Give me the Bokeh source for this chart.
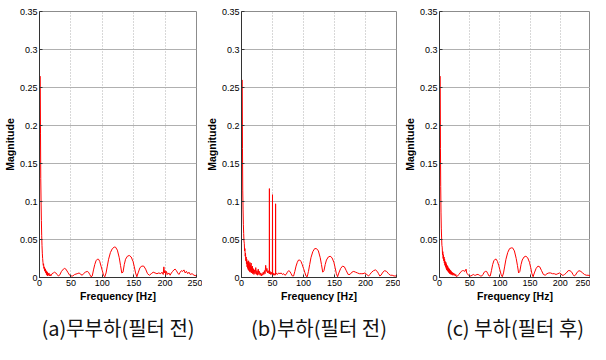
from bokeh.plotting import figure
from bokeh.layouts import row
from bokeh.models import FixedTicker, LinearAxis, Range1d
from bokeh.embed import file_html
from bokeh.resources import INLINE

# ---------------- data ----------------
x_ticks = [0, 50, 100, 150, 200, 250]
y_ticks = [0, 0.05, 0.1, 0.15, 0.2, 0.25, 0.3, 0.35]
y_tick_labels = ["0", "0.05", "0.1", "0.15", "0.2", "0.25", "0.3", "0.35"]
captions = ["(a)무부하(필터 전)", "(b)부하(필터 전)", "(c) 부하(필터 후)"]

freq_a = [1.2, 1.6, 2.0, 2.5, 3.0, 3.5, 4.0, 4.5, 5.0, 5.5, 6, 6.5, 7, 7.5, 8, 8.5, 9,
          9.5, 10, 10.5, 11, 11.5, 12, 12.5, 13, 13.5, 14, 15, 16, 17, 18, 20, 22, 24, 26, 28, 30,
          32, 35, 38, 40, 42, 45, 48, 50, 53, 56, 60, 63, 66, 68, 70, 73, 76, 78, 80, 82,
          84, 86, 88, 90, 92, 94, 96, 98, 100, 102, 104, 106, 108, 110, 113, 116, 119, 121, 124, 127,
          129, 131, 133, 135, 137, 140, 143, 146, 149, 151, 153, 155, 157, 160, 163, 166, 169, 172, 175, 178,
          181, 184, 187, 190, 193, 195, 197, 198, 199, 200, 201, 202, 204, 206, 208, 210, 212, 214, 216, 218,
          220, 222, 224, 226, 228, 230, 232, 234, 236, 238, 240, 243, 246, 250]
mag_a = [0.265, 0.19, 0.13, 0.10, 0.075, 0.055, 0.042, 0.032, 0.025, 0.02, 0.016, 0.018, 0.012, 0.014, 0.009, 0.012, 0.008,
         0.011, 0.006, 0.009, 0.004, 0.008, 0.003, 0.007, 0.002, 0.005, 0.003, 0.006, 0.002, 0.004, 0.002, 0.005, 0.006, 0.007, 0.006, 0.004, 0.002,
         0.003, 0.008, 0.011, 0.012, 0.011, 0.007, 0.003, 0.002, 0.002, 0.004, 0.005, 0.006, 0.004, 0.003, 0.005, 0.007, 0.008, 0.007, 0.004, 0.001,
         0.002, 0.010, 0.017, 0.022, 0.024, 0.024, 0.021, 0.015, 0.009, 0.003, 0.001, 0.006, 0.015, 0.024, 0.033, 0.038, 0.040, 0.040, 0.036, 0.026,
         0.016, 0.006, 0.007, 0.017, 0.024, 0.028, 0.029, 0.027, 0.021, 0.014, 0.006, 0.001, 0.006, 0.013, 0.015, 0.015, 0.011, 0.005, 0.003, 0.005,
         0.007, 0.006, 0.005, 0.006, 0.005, 0.007, 0.004, 0.014, 0.006, 0.009, 0.003, 0.008, 0.004, 0.006, 0.003, 0.006, 0.008, 0.010, 0.011, 0.009,
         0.006, 0.004, 0.007, 0.009, 0.008, 0.010, 0.006, 0.008, 0.005, 0.007, 0.004, 0.005, 0.003, 0.002]

freq_b = [1.2, 1.6, 2.0, 2.5, 3.0, 3.5, 4.0, 4.5, 5.0, 5.5, 6.0, 6.5, 7.0, 7.5, 8.0, 8.5, 9.0,
          9.5, 10, 10.5, 11, 11.5, 12, 12.5, 13, 13.5, 14, 14.5, 15, 15.5, 16, 16.5, 17, 17.5, 18, 18.5, 19,
          19.5, 20, 21, 22, 23, 24, 25, 26, 27, 28, 29, 30, 31, 32, 33, 34, 35, 36, 37, 38,
          39, 40, 41, 42, 43, 44, 44.8, 45.0, 45.2, 46, 47, 48, 49, 49.8, 50.0, 50.2, 51, 52, 53, 54,
          54.8, 55.0, 55.2, 56, 58, 60, 62, 64, 66, 68, 70, 72, 74, 76, 78, 80, 82, 84, 86, 88,
          90, 92, 94, 96, 98, 100, 102, 104, 106, 108, 110, 112, 115, 118, 121, 124, 127, 129, 131, 133,
          135, 137, 140, 143, 146, 149, 151, 153, 155, 157, 160, 163, 166, 169, 172, 175, 178, 181, 184, 187,
          190, 193, 196, 199, 201, 203, 205, 207, 210, 213, 216, 219, 221, 223, 225, 228, 231, 234, 237, 240,
          243, 246, 250]
mag_b = [0.26, 0.17, 0.115, 0.09, 0.07, 0.058, 0.048, 0.045, 0.035, 0.038, 0.028, 0.032, 0.022, 0.027, 0.018, 0.024, 0.014,
         0.021, 0.012, 0.020, 0.010, 0.022, 0.009, 0.018, 0.008, 0.020, 0.007, 0.016, 0.009, 0.019, 0.006, 0.014, 0.008, 0.015, 0.005, 0.012, 0.006,
         0.011, 0.004, 0.010, 0.005, 0.013, 0.004, 0.009, 0.003, 0.011, 0.004, 0.008, 0.003, 0.006, 0.002, 0.005, 0.003, 0.007, 0.004, 0.009, 0.005,
         0.016, 0.008, 0.012, 0.006, 0.009, 0.006, 0.005, 0.117, 0.005, 0.008, 0.004, 0.007, 0.004, 0.004, 0.109, 0.004, 0.006, 0.003, 0.005, 0.003,
         0.004, 0.097, 0.004, 0.006, 0.004, 0.006, 0.005, 0.006, 0.004, 0.005, 0.003, 0.004, 0.007, 0.009, 0.008, 0.005, 0.002, 0.002, 0.008, 0.015,
         0.020, 0.023, 0.023, 0.021, 0.017, 0.012, 0.007, 0.002, 0.001, 0.008, 0.017, 0.026, 0.034, 0.038, 0.038, 0.035, 0.026, 0.017, 0.007, 0.009,
         0.017, 0.023, 0.027, 0.028, 0.026, 0.020, 0.013, 0.005, 0.001, 0.006, 0.012, 0.015, 0.014, 0.009, 0.004, 0.004, 0.007, 0.008, 0.007, 0.006,
         0.005, 0.005, 0.005, 0.006, 0.005, 0.003, 0.002, 0.004, 0.007, 0.009, 0.010, 0.008, 0.005, 0.002, 0.003, 0.007, 0.009, 0.008, 0.005, 0.003,
         0.003, 0.002, 0.002]

freq_c = [1.2, 1.6, 2.0, 2.5, 3.0, 3.5, 4.0, 4.5, 5.0, 5.5, 6.0, 6.5, 7.0, 7.5, 8.0, 8.5, 9.0,
          9.5, 10, 10.5, 11, 11.5, 12, 12.5, 13, 13.5, 14, 14.5, 15, 15.5, 16, 16.5, 17, 17.5, 18, 18.5, 19,
          19.5, 20, 21, 22, 23, 24, 25, 26, 27, 28, 30, 32, 34, 36, 38, 40, 42, 44, 45, 46,
          48, 50, 52, 54, 56, 58, 60, 62, 64, 66, 68, 70, 72, 74, 76, 78, 80, 82, 84, 86,
          88, 90, 92, 94, 96, 98, 100, 102, 104, 106, 108, 110, 113, 116, 119, 121, 124, 127, 129, 131,
          133, 135, 137, 140, 143, 146, 149, 151, 153, 155, 157, 160, 163, 166, 169, 172, 175, 178, 181, 184,
          187, 190, 193, 196, 199, 201, 203, 205, 207, 210, 213, 216, 219, 221, 223, 225, 228, 231, 234, 237,
          240, 243, 246, 250]
mag_c = [0.265, 0.17, 0.12, 0.085, 0.065, 0.052, 0.042, 0.04, 0.03, 0.034, 0.025, 0.03, 0.022, 0.027, 0.019, 0.024, 0.016,
         0.021, 0.014, 0.020, 0.012, 0.018, 0.010, 0.016, 0.009, 0.015, 0.008, 0.013, 0.007, 0.012, 0.006, 0.011, 0.005, 0.010, 0.005, 0.009, 0.004,
         0.008, 0.004, 0.007, 0.003, 0.006, 0.003, 0.005, 0.002, 0.004, 0.001, 0.002, 0.004, 0.006, 0.008, 0.009, 0.009, 0.008, 0.011, 0.006, 0.005,
         0.003, 0.002, 0.002, 0.003, 0.004, 0.003, 0.003, 0.004, 0.004, 0.003, 0.002, 0.002, 0.004, 0.007, 0.008, 0.008, 0.005, 0.002, 0.002, 0.009,
         0.017, 0.022, 0.024, 0.024, 0.021, 0.016, 0.010, 0.004, 0.001, 0.006, 0.015, 0.024, 0.033, 0.038, 0.039, 0.039, 0.035, 0.025, 0.016, 0.006,
         0.008, 0.017, 0.023, 0.027, 0.028, 0.026, 0.020, 0.013, 0.005, 0.001, 0.006, 0.012, 0.015, 0.014, 0.009, 0.004, 0.003, 0.005, 0.006, 0.006,
         0.005, 0.005, 0.004, 0.005, 0.006, 0.005, 0.003, 0.003, 0.004, 0.006, 0.009, 0.009, 0.007, 0.004, 0.002, 0.003, 0.007, 0.009, 0.008, 0.006,
         0.004, 0.003, 0.003, 0.002]

series = [(freq_a, mag_a), (freq_b, mag_b), (freq_c, mag_c)]

# ---------------- layout ----------------
frame_w = [166, 164, 160]
border_l = [30, 30, 30]
border_r = [6, 4, 0]
SANS = "Liberation Sans"


def make_panel(i):
    fx, fy = series[i]
    p = figure(width=border_l[i] + frame_w[i] + border_r[i], height=344,
               x_range=Range1d(0, 250), y_range=Range1d(0, 0.35),
               output_backend="svg", toolbar_location=None, title=None,
               min_border_left=border_l[i], min_border_right=border_r[i],
               min_border_top=11, min_border_bottom=0)
    p.line(fx, fy, line_color="#ff0000", line_width=1)

    p.xaxis.ticker = FixedTicker(ticks=x_ticks)
    p.yaxis.ticker = FixedTicker(ticks=y_ticks)
    p.yaxis.major_label_overrides = {t: s for t, s in zip(y_ticks, y_tick_labels)}
    p.xaxis.axis_label = "Frequency [Hz]"
    p.yaxis.axis_label = "Magnitude"
    for ax in (p.xaxis[0], p.yaxis[0]):
        ax.major_label_text_font = SANS
        ax.major_label_text_font_size = "9px"
        ax.major_label_text_color = "#000000"
        ax.axis_label_text_font = SANS
        ax.axis_label_text_font_style = "bold"
        ax.axis_label_text_font_size = "10.5px"
        ax.axis_label_text_color = "#000000"
        ax.major_tick_in = 3
        ax.major_tick_out = 0
        ax.minor_tick_line_color = None
        ax.axis_line_color = "#333333"
        ax.major_tick_line_color = "#333333"
        ax.major_label_standoff = 2
        ax.axis_label_standoff = 1

    p.ygrid.grid_line_color = "#b0b0b0"
    p.xgrid.grid_line_color = "#b0b0b0"
    p.xgrid.grid_line_dash = "1 2"
    p.outline_line_color = "#8c8c8c"
    p.background_fill_color = "white"
    p.border_fill_color = "white"

    # caption below the panel, carried by a tick-less axis
    cap_axis = LinearAxis(ticker=FixedTicker(ticks=[]), axis_label=captions[i],
                          axis_line_color=None, major_tick_line_color=None,
                          minor_tick_line_color=None, major_tick_in=0, major_tick_out=0,
                          minor_tick_in=0, minor_tick_out=0,
                          major_label_text_font_size="0px",
                          axis_label_standoff=8,
                          axis_label_text_font="Noto Sans CJK KR",
                          axis_label_text_font_size="20px",
                          axis_label_text_font_style="normal",
                          axis_label_text_color="#111111")
    p.add_layout(cap_axis, "below")
    return p


panels = [make_panel(i) for i in range(3)]
layout = row(*panels, spacing=0)

open("out.html", "w").write(file_html(layout, INLINE))
